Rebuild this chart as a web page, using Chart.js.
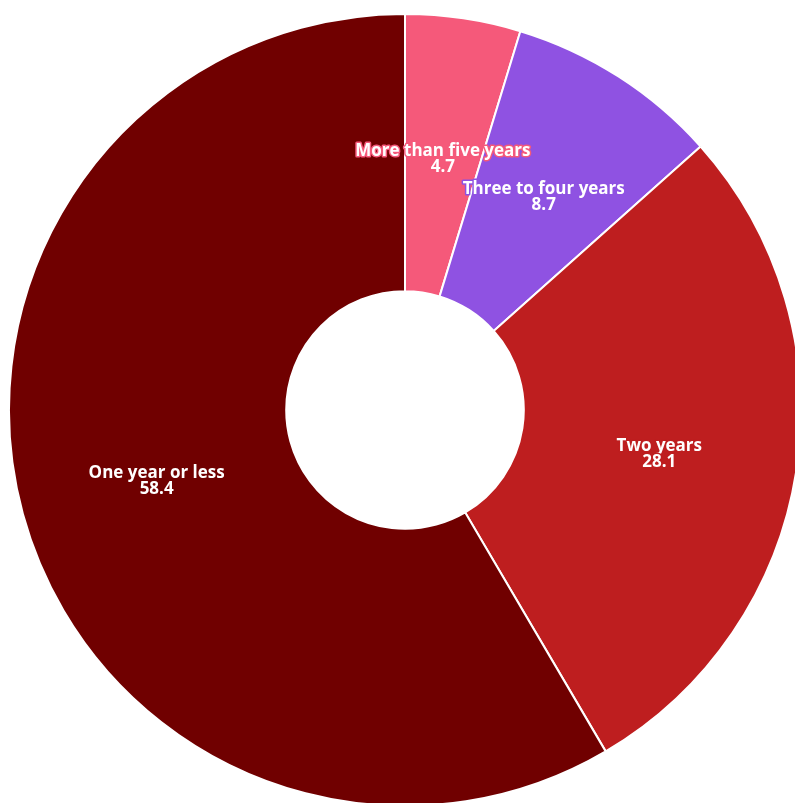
<!DOCTYPE html>
<html>
<head>
<meta charset="utf-8">
<script src="https://cdn.jsdelivr.net/npm/chart.js@4"></script>
<style>
html,body{margin:0;padding:0;background:#fff;overflow:hidden;width:795px;height:803px;}
#wrap{position:absolute;left:8px;top:13px;width:794px;height:794px;}
</style>
</head>
<body>
<div id="wrap"><canvas id="c" width="794" height="794"></canvas></div>
<script>
const categories = ["More than five years", "Three to four years", "Two years", "One year or less"];
const values = [4.7, 8.7, 28.1, 58.4];
const valueLabels = ["4.7", "8.7", "28.1", "58.4"];
const colors = ["#f5597a", "#8f52e2", "#be1e1f", "#700000"];

const labelPlugin = {
  id: 'sliceLabels',
  afterDatasetsDraw(chart) {
    const ctx = chart.ctx;
    const meta = chart.getDatasetMeta(0);
    ctx.save();
    ctx.font = 'bold 17px "Open Sans", sans-serif';
    ctx.textAlign = 'center';
    ctx.textBaseline = 'middle';
    ctx.lineJoin = 'round';
    meta.data.forEach((arc, i) => {
      const p = arc.getCenterPoint();
      const lines = [categories[i], valueLabels[i]];
      lines.forEach((t, k) => {
        const y = p.y - 4 + k * 16;
        ctx.lineWidth = 3;
        ctx.strokeStyle = colors[i];
        ctx.strokeText(t, p.x, y);
        ctx.fillStyle = '#ffffff';
        ctx.fillText(t, p.x, y);
      });
    });
    ctx.restore();
  }
};

new Chart(document.getElementById('c'), {
  type: 'doughnut',
  data: {
    labels: categories,
    datasets: [{
      data: values,
      backgroundColor: colors,
      borderColor: '#ffffff',
      borderWidth: 2
    }]
  },
  options: {
    responsive: false,
    animation: false,
    cutout: '30%',
    layout: { padding: 0 },
    plugins: { legend: { display: false }, tooltip: { enabled: false } }
  },
  plugins: [labelPlugin]
});
</script>
</body>
</html>
